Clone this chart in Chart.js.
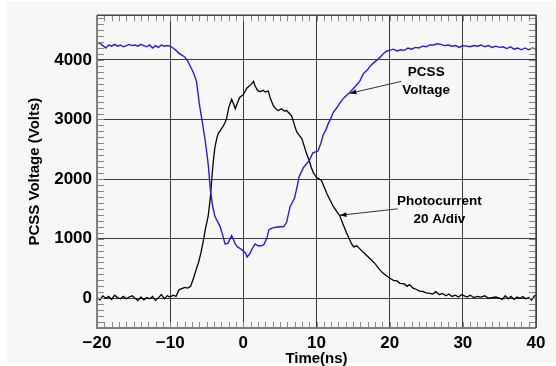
<!DOCTYPE html>
<html>
<head>
<meta charset="utf-8">
<script src="https://cdn.jsdelivr.net/npm/chart.js@4.4.1/dist/chart.umd.min.js"></script>
<style>
body { margin: 0; background: #fff; }
canvas { display: block; }
</style>
</head>
<body>
<canvas id="chart" width="556" height="366"></canvas>
<script>
// PCSS voltage trace (blue)
const timeV = [-20,-19.6,-19.2,-18.8,-18.4,-18,-17.6,-17.2,-16.8,-16.4,-16,-15.6,-15.2,-14.8,-14.4,-14,-13.6,-13.2,-12.8,-12.4,-12,-11.6,-11.2,-10.8,-10.4,-10,
  -9.6,-9.2,-8.8,-8.4,-8,-7.6,-7.2,-6.8,-6.4,-6,-5.6,-5.2,-4.8,-4.5,-4.2,-3.9,-3.5,-3.2,-2.8,-2.5,-2.1,-1.8,-1.6,-1.3,-1.1,-0.8,-0.4,
  0,0.3,0.5,0.9,1.2,1.6,2,2.4,2.8,3.2,3.5,4,4.5,5,5.5,5.9,6.4,7,7.4,7.6,8.2,8.6,9,9.5,10.2,10.6,10.9,11.3,11.6,12,12.3,12.8,13.2,13.8,
  14.5,15.2,15.9,16.4,17,17.3,17.8,18.3,18.7,19.2,19.6,20,20.5,21,21.5,22,22.5,23,23.5,24,24.5,25,25.5,26,26.5,27,27.5,28,28.5,29,29.5,
  30,30.5,31,31.5,32,32.5,33,33.5,34,34.5,35,35.5,36,36.5,37,37.5,38,38.5,39,39.5,40];
const voltage = [4290,4280,4240,4200,4250,4230,4260,4230,4250,4220,4240,4260,4240,4250,4230,4260,4240,4220,4250,4200,4240,4210,4250,4230,4240,4230,
  4200,4160,4110,4080,4050,3980,3880,3780,3640,3250,2950,2630,2250,1810,1550,1380,1280,1210,1050,910,920,1000,1050,970,910,860,830,
  790,760,690,750,830,910,880,880,900,1000,1150,1180,1190,1200,1200,1270,1540,1680,1900,2030,2190,2250,2310,2440,2470,2600,2740,2830,2930,3030,3120,3200,3280,3370,
  3450,3540,3640,3770,3840,3890,3950,4000,4050,4110,4150,4160,4180,4150,4170,4160,4200,4180,4210,4200,4230,4220,4250,4250,4270,4260,4240,4250,4230,4240,4210,
  4240,4230,4220,4240,4230,4250,4220,4240,4210,4230,4210,4220,4190,4220,4180,4200,4170,4200,4170,4200,4180];

// Photocurrent trace (black)
const timeI = [-20,-19.6,-19.2,-18.8,-18.4,-18,-17.6,-17.2,-16.8,-16.4,-16,-15.6,-15.2,-14.8,-14.4,-14,-13.6,-13.2,-12.8,-12.4,-12,-11.6,-11.2,-10.8,-10.4,-10,
  -9.6,-9.2,-8.8,-8.4,-8,-7.6,-7.2,-6.8,-6.4,-6.1,-5.8,-5.5,-5.2,-4.8,-4.5,-4.3,-4.1,-3.9,-3.6,-3.4,-3.1,-2.8,-2.5,-2.3,-2,-1.6,-1.3,-1.1,-0.8,-0.5,
  0,0.5,1,1.4,1.6,2,2.4,2.7,3,3.4,3.7,4.1,4.5,4.8,5.2,5.6,5.9,6.3,6.6,7,7.3,7.6,8,8.3,8.6,9,9.3,9.6,10,10.4,10.7,11,11.4,11.8,12.3,12.8,13.2,13.6,14.1,14.5,14.8,
  15.1,15.5,16,16.4,17,17.5,18,18.5,19,19.5,20,20.5,21,21.4,22,22.4,22.7,23.2,23.6,24.1,24.6,25,25.5,25.9,26.3,26.8,27.2,27.7,28.1,28.5,29,29.4,29.8,
  30.2,30.6,31,31.5,32,32.5,33,33.5,34,34.5,35,35.4,35.8,36.2,36.6,37,37.4,37.8,38.2,38.6,39,39.4,39.8,40];
const current = [20,-30,40,0,30,-20,50,10,-10,30,-10,20,40,0,-40,20,-30,10,-10,30,-40,10,60,-10,40,20,
  50,30,140,160,180,170,200,340,500,610,760,940,1150,1380,1700,2030,2300,2520,2700,2770,2820,2880,2950,3010,3200,3340,3250,3180,3280,3370,
  3420,3530,3580,3640,3560,3480,3470,3490,3460,3480,3350,3230,3170,3150,3180,3140,3150,3100,3060,2900,2790,2740,2680,2560,2440,2310,2190,2100,2030,2000,1970,1880,1760,1660,1540,1450,1380,1250,1100,990,910,
  860,880,820,770,700,640,580,500,430,380,340,300,290,250,240,200,230,170,150,120,110,90,80,70,110,60,80,40,70,30,50,20,60,
  40,20,50,10,30,20,40,0,10,20,0,-20,40,-10,30,-20,20,0,30,-10,10,-30,40,50];

const xTicks = [-20, -10, 0, 10, 20, 30, 40];
const yTicks = [0, 1000, 2000, 3000, 4000];
const xRange = [-20, 40];
const yRange = [-500, 4750];

// callouts in data units: text lines, text anchor, arrow start, arrow tip
const labelVoltage = { lines: ['PCSS', 'Voltage'], at: [25, 3790], from: [21.6, 3640], to: [14.55, 3438] };
const labelCurrent = { lines: ['Photocurrent', '20 A/div'], at: [26.8, 1620], from: [21.1, 1500], to: [13.2, 1392] };

function pts(xs, ys) {
  return xs.map((x, i) => ({ x: x, y: ys[i] }));
}

function arrow(ctx, x1, y1, x2, y2) {
  const a = Math.atan2(y2 - y1, x2 - x1);
  ctx.beginPath();
  ctx.moveTo(x1, y1);
  ctx.lineTo(x2, y2);
  ctx.stroke();
  ctx.beginPath();
  ctx.moveTo(x2, y2);
  ctx.lineTo(x2 - 7 * Math.cos(a - 0.35), y2 - 7 * Math.sin(a - 0.35));
  ctx.lineTo(x2 - 7 * Math.cos(a + 0.35), y2 - 7 * Math.sin(a + 0.35));
  ctx.closePath();
  ctx.fill();
}

const decor = {
  id: 'decor',
  beforeDraw(chart) {
    const ctx = chart.ctx;
    ctx.save();
    ctx.fillStyle = '#f7f7f7';
    ctx.fillRect(7, 1, 549, 362);
    ctx.restore();
  },
  afterDatasetsDraw(chart) {
    const ctx = chart.ctx;
    const a = chart.chartArea;
    const xs = chart.scales.x, ys = chart.scales.y;
    ctx.save();
    // minor ticks
    ctx.strokeStyle = '#888';
    ctx.lineWidth = 1;
    ctx.beginPath();
    for (let t = xRange[0]; t <= xRange[1]; t++) {
      const px = Math.round(xs.getPixelForValue(t)) + 0.5;
      ctx.moveTo(px, a.bottom); ctx.lineTo(px, a.bottom - 6);
      ctx.moveTo(px, a.top); ctx.lineTo(px, a.top + 6);
    }
    for (let v = -500; v <= 4700; v += 100) {
      const py = Math.round(ys.getPixelForValue(v)) + 0.5;
      ctx.moveTo(a.left, py); ctx.lineTo(a.left + 7, py);
      ctx.moveTo(a.right, py); ctx.lineTo(a.right - 7, py);
    }
    ctx.stroke();
    // frame
    ctx.strokeStyle = '#808080';
    ctx.lineWidth = 2;
    ctx.beginPath();
    ctx.moveTo(a.left, a.top); ctx.lineTo(a.left, a.bottom); ctx.lineTo(a.right, a.bottom);
    ctx.stroke();
    ctx.strokeStyle = '#444';
    ctx.lineWidth = 1.5;
    ctx.beginPath();
    ctx.moveTo(a.left, a.top); ctx.lineTo(a.right, a.top); ctx.lineTo(a.right, a.bottom);
    ctx.stroke();
    // callouts
    ctx.fillStyle = '#000';
    ctx.font = 'bold 13.5px "Liberation Sans", Arial, sans-serif';
    ctx.textAlign = 'center';
    ctx.textBaseline = 'middle';
    [labelVoltage, labelCurrent].forEach(l => {
      const cx = xs.getPixelForValue(l.at[0]);
      const cy = ys.getPixelForValue(l.at[1]);
      l.lines.forEach((s, i) => ctx.fillText(s, cx, cy + i * 18));
      ctx.strokeStyle = '#333';
      ctx.lineWidth = 1;
      ctx.fillStyle = '#000';
      arrow(ctx, xs.getPixelForValue(l.from[0]), ys.getPixelForValue(l.from[1]),
        xs.getPixelForValue(l.to[0]), ys.getPixelForValue(l.to[1]));
    });
    ctx.restore();
  }
};

const tickFont = { family: '"Liberation Sans", Arial, sans-serif', size: 17, weight: 'bold' };
const titleFont = { family: '"Liberation Sans", Arial, sans-serif', size: 15, weight: 'bold' };

new Chart(document.getElementById('chart'), {
  type: 'line',
  data: {
    datasets: [
      { label: 'PCSS Voltage', data: pts(timeV, voltage), borderColor: '#3514dc', borderWidth: 1.4, pointRadius: 0, tension: 0 },
      { label: 'Photocurrent', data: pts(timeI, current), borderColor: '#000', borderWidth: 1.3, pointRadius: 0, tension: 0 }
    ]
  },
  options: {
    responsive: false,
    devicePixelRatio: 1,
    animation: false,
    layout: { padding: { left: 0, top: 7, right: 20, bottom: 0 } },
    plugins: { legend: { display: false }, tooltip: { enabled: false } },
    scales: {
      x: {
        type: 'linear',
        min: xRange[0], max: xRange[1],
        afterBuildTicks: s => { s.ticks = xTicks.map(v => ({ value: v })); },
        afterFit: s => { s.height = 38; },
        grid: { color: '#3a3a3a', lineWidth: 1, drawTicks: false },
        border: { display: false },
        ticks: {
          color: '#000', font: tickFont, padding: 5, maxRotation: 0,
          callback: v => v < 0 ? '\u2212' + Math.abs(v) : String(v)
        },
        title: { display: true, text: 'Time(ns)', color: '#000', font: titleFont, padding: { top: 0, bottom: -2 } }
      },
      y: {
        min: yRange[0], max: yRange[1],
        afterBuildTicks: s => { s.ticks = yTicks.map(v => ({ value: v })); },
        afterFit: s => { s.width = 97; },
        grid: { color: '#3a3a3a', lineWidth: 1, drawTicks: false },
        border: { display: false },
        ticks: { color: '#000', font: tickFont, padding: 5, callback: v => String(v) },
        title: { display: true, text: 'PCSS Voltage (Volts)', color: '#000', font: titleFont, padding: { top: 26, bottom: 0 } }
      }
    }
  },
  plugins: [decor]
});
</script>
</body>
</html>
